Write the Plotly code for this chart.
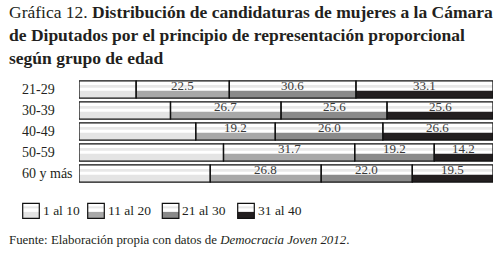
import plotly.graph_objects as go

categories = ["21-29", "30-39", "40-49", "50-59", "60 y más"]
series_names = ["1 al 10", "11 al 20", "21 al 30", "31 al 40"]
v_11_20 = [22.5, 26.7, 19.2, 31.7, 26.8]
v_21_30 = [30.6, 25.6, 26.0, 19.2, 22.0]
v_31_40 = [33.1, 25.6, 26.6, 14.2, 19.5]
v_1_10 = [round(100 - a - b - c, 1) for a, b, c in zip(v_11_20, v_21_30, v_31_40)]
series_values = [v_1_10, v_11_20, v_21_30, v_31_40]
show_label = [False, True, True, True]
band_colors = ["#e4e4e4", "#a8a8a8", "#8a8a8a", "#231f20"]
stripe_color = "#e8e8e8"
SERIF = "Liberation Serif, Times New Roman, DejaVu Serif, serif"

W, H = 504, 257
ML, MR, MT, MB = 79, 11, 79, 69.5
PW = W - ML - MR
PH = H - MT - MB


def px(xp):
    return (xp - ML) / PW


def py(yp):
    return (H - MB - yp) / PH


fig = go.Figure()
FULL = 0.82
TOP = -FULL / 2
starts = [[0.0] * len(categories)]
for vals in series_values[:-1]:
    starts.append([s + v for s, v in zip(starts[-1], vals)])

for k, vals in enumerate(series_values):
    base = starts[k]
    common = dict(y=categories, x=vals, base=base, orientation="h", showlegend=False, hoverinfo="skip")
    fig.add_trace(go.Bar(**common, width=FULL, offset=TOP, marker=dict(color="white", line=dict(width=0))))
    fig.add_trace(go.Bar(**common, width=0.14, offset=TOP + 0.19, marker=dict(color=stripe_color, line=dict(width=0))))
    fig.add_trace(go.Bar(**common, width=0.35, offset=FULL / 2 - 0.35, marker=dict(color=band_colors[k], line=dict(width=0))))

for k, vals in enumerate(series_values):
    fig.add_trace(go.Bar(y=categories, x=vals, base=starts[k], orientation="h", width=FULL, offset=TOP,
                         showlegend=False, hoverinfo="skip",
                         marker=dict(color="rgba(0,0,0,0)", line=dict(color="#111", width=1.3))))

annotations = []
for k, vals in enumerate(series_values):
    if not show_label[k]:
        continue
    for c, s, v in zip(categories, starts[k], vals):
        annotations.append(dict(x=s + v / 2, y=c, xref="x", yref="y", text=f"{v:.1f}", showarrow=False,
                                yshift=4, font=dict(family=SERIF, size=13, color="#3a3a3a")))

for c in categories:
    annotations.append(dict(x=px(20), y=c, xref="paper", yref="y", text=c, showarrow=False, xanchor="left",
                            font=dict(family=SERIF, size=14, color="#231f20")))

annotations.append(dict(x=px(7), y=py(0), xref="paper", yref="paper", xanchor="left", yanchor="top", align="left",
                        showarrow=False,
                        text="Gráfica 12. <b>Distribución de candidaturas de mujeres a la Cámara<br>de Diputados por el principio de representación proporcional<br>según grupo de edad</b>",
                        font=dict(family=SERIF, size=17.5, color="#231f20")))

annotations.append(dict(x=px(7), y=py(241), xref="paper", yref="paper", xanchor="left", yanchor="middle",
                        showarrow=False,
                        text="Fuente: Elaboración propia con datos de <i>Democracia Joven 2012</i>.",
                        font=dict(family=SERIF, size=12.9, color="#231f20")))

shapes = []
box_x = [22.7, 87.7, 162.3, 237.7]
bw = 16.6
y0, y1 = 204, 219
for k, name in enumerate(series_names):
    x0 = box_x[k]
    shapes.append(dict(type="rect", xref="paper", yref="paper", x0=px(x0), x1=px(x0 + bw), y0=py(y1), y1=py(y0),
                       fillcolor="white", line=dict(width=0)))
    shapes.append(dict(type="rect", xref="paper", yref="paper", x0=px(x0), x1=px(x0 + bw), y0=py(y0 + 5), y1=py(y0 + 3),
                       fillcolor=stripe_color, line=dict(width=0)))
    shapes.append(dict(type="rect", xref="paper", yref="paper", x0=px(x0), x1=px(x0 + bw), y0=py(y1), y1=py(y1 - 6.5),
                       fillcolor=band_colors[k], line=dict(width=0)))
    shapes.append(dict(type="rect", xref="paper", yref="paper", x0=px(x0), x1=px(x0 + bw), y0=py(y1), y1=py(y0),
                       fillcolor="rgba(0,0,0,0)", line=dict(color="#111", width=1.2)))
    annotations.append(dict(x=px(x0 + bw + 1.5), y=py((y0 + y1) / 2), xref="paper", yref="paper", xanchor="left",
                            yanchor="middle", showarrow=False, text=name,
                            font=dict(family=SERIF, size=13.5, color="#231f20")))

fig.update_layout(
    width=W, height=H, barmode="overlay",
    margin=dict(l=ML, r=MR, t=MT, b=MB, pad=0),
    paper_bgcolor="white", plot_bgcolor="white",
    font=dict(family=SERIF),
    xaxis=dict(range=[0, 100], visible=False, fixedrange=True),
    yaxis=dict(categoryorder="array", categoryarray=categories, autorange="reversed",
               showticklabels=False, showgrid=False, zeroline=False, showline=False, ticks=""),
    annotations=annotations, shapes=shapes, showlegend=False,
)

fig.write_html("out.html", config={"displayModeBar": False},
               post_script="document.body.style.margin='0';document.body.style.padding='0';")
